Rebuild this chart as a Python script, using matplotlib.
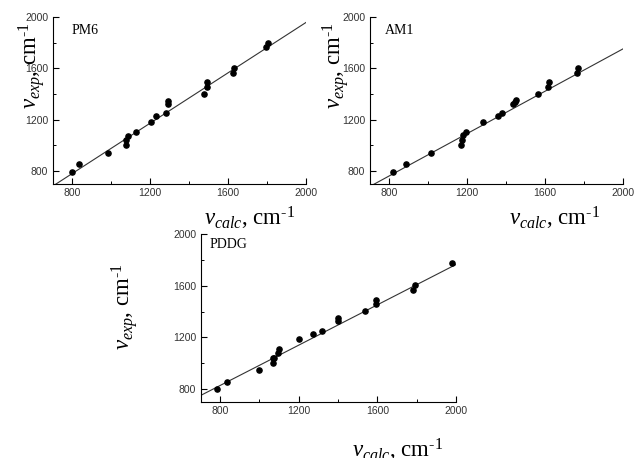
import matplotlib
matplotlib.use("Agg")
import matplotlib.pyplot as plt
from matplotlib.ticker import MultipleLocator
import numpy as np

plt.rcParams["mathtext.fontset"] = "custom"
plt.rcParams["mathtext.rm"] = "Liberation Serif"
plt.rcParams["mathtext.it"] = "Liberation Serif:italic"

# --- données (nu_calc, nu_exp) ---
pm6_calc = [800, 838, 983, 1078, 1078, 1085, 1128, 1203, 1230, 1281, 1291, 1291,
            1478, 1493, 1493, 1626, 1631, 1797, 1804]
pm6_exp = [797, 857, 942, 1006, 1043, 1076, 1105, 1182, 1228, 1252, 1319, 1347,
           1401, 1453, 1492, 1561, 1603, 1765, 1794]

am1_calc = [822, 889, 1017, 1167, 1174, 1177, 1193, 1280, 1360, 1382, 1437, 1445,
            1450, 1566, 1614, 1619, 1763, 1771]
am1_exp = [797, 857, 942, 1006, 1043, 1081, 1105, 1182, 1231, 1252, 1321, 1339,
           1352, 1401, 1453, 1494, 1561, 1604]

pddg_calc = [786, 837, 1000, 1071, 1071, 1074, 1093, 1100, 1200, 1270, 1319, 1400,
             1400, 1539, 1593, 1595, 1783, 1792, 1978]
pddg_exp = [797, 857, 944, 1001, 1039, 1043, 1078, 1109, 1186, 1230, 1251, 1323,
            1348, 1403, 1457, 1490, 1565, 1603, 1773]

# droites de régression (pente, ordonnée à l'origine)
fits = {"PM6": (0.981, -4.4), "AM1": (0.825, 101.9), "PDDG": (0.78, 204.0)}

W, H = 636, 458
fig = plt.figure(figsize=(W / 100, H / 100), dpi=100)


def px_axes(left, top, right, bottom):
    return fig.add_axes([left / W, 1 - bottom / H, (right - left) / W, (bottom - top) / H])


panels = [
    ("PM6", pm6_calc, pm6_exp, px_axes(52.5, 17, 306, 184),
     (0.077, 0.922), (0.779, -0.204), (-0.081, 0.71)),
    ("AM1", am1_calc, am1_exp, px_axes(369.5, 17, 623, 184),
     (0.061, 0.922), (0.732, -0.204), (-0.136, 0.71)),
    ("PDDG", pddg_calc, pddg_exp, px_axes(200.5, 234, 456, 402),
     (0.037, 0.935), (0.773, -0.29), (-0.299, 0.571)),
]

xlab = r"$\mathit{v}_{\mathit{calc}}$, cm$^{\text{-1}}$"
ylab = r"$\mathit{v}_{\mathit{exp}}$, cm$^{\text{-1}}$"

for name, xc, ye, ax, name_pos, xl_pos, yl_pos in panels:
    a, b = fits[name]
    xl = np.array([700, 2000])
    ax.plot(xl, a * xl + b, color="#333333", linewidth=0.8)
    ax.scatter(xc, ye, s=14, color="black", zorder=3)

    ax.set_xlim(700, 2000)
    ax.set_ylim(700, 2000)
    ax.spines["top"].set_visible(False)
    ax.spines["right"].set_visible(False)
    for sp in ("left", "bottom"):
        ax.spines[sp].set_linewidth(0.8)
    ax.xaxis.set_minor_locator(MultipleLocator(200))
    ax.yaxis.set_minor_locator(MultipleLocator(200))
    ax.set_xticks([800, 1200, 1600, 2000])
    ax.set_yticks([800, 1200, 1600, 2000])
    ax.tick_params(which="major", direction="in", length=4, width=0.8,
                   labelsize=7.5, labelcolor="#333333", pad=3)
    ax.tick_params(which="minor", direction="in", length=2.5, width=0.7)
    for lab in ax.get_xticklabels() + ax.get_yticklabels():
        lab.set_family("Liberation Sans")

    ax.text(name_pos[0], name_pos[1], name, transform=ax.transAxes, ha="left",
            va="center", fontsize=10, family="Liberation Serif")
    ax.text(xl_pos[0], xl_pos[1], xlab, transform=ax.transAxes, ha="center",
            va="center", fontsize=16.5, family="Liberation Serif", clip_on=False)
    ax.text(yl_pos[0], yl_pos[1], ylab, transform=ax.transAxes, ha="center",
            va="center", rotation=90, fontsize=16.5, family="Liberation Serif",
            clip_on=False)

fig.savefig("out.png", dpi=100)
